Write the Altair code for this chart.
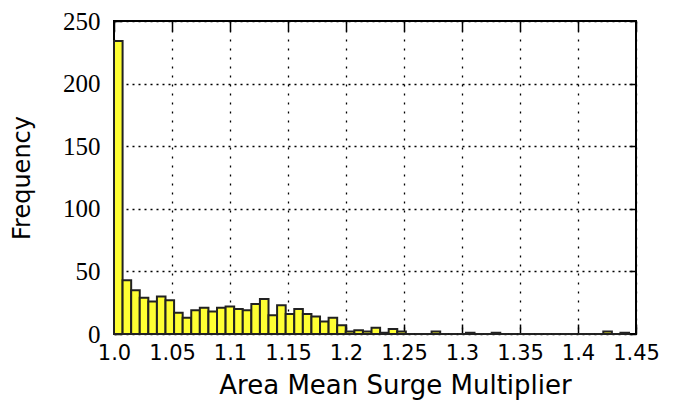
import altair as alt
import pandas as pd

# Histogram counts (60 equal bins between bin_lo and bin_hi)
counts = [234, 43, 35, 29, 26, 30, 27, 17, 13, 19,
          21, 18, 21, 22, 20, 19, 24, 28, 15, 23,
          16, 20, 16, 14, 10, 13, 7, 2, 3, 2,
          5, 1, 4, 2, 0, 0, 0, 2, 0, 0,
          0, 1, 0, 0, 1, 0, 0, 0, 0, 0,
          0, 0, 0, 0, 0, 0, 0, 2, 0, 1]
bin_lo = 1.0
bin_hi = 1.444

x_tick_values = [1.0, 1.05, 1.1, 1.15, 1.2, 1.25, 1.3, 1.35, 1.4, 1.45]
x_tick_labels = ["1.0", "1.05", "1.1", "1.15", "1.2", "1.25", "1.3", "1.35", "1.4", "1.45"]
y_tick_values = [0, 50, 100, 150, 200, 250]

x_domain = [1.0, 1.45]
y_domain = [0, 250]

n = len(counts)
w = (bin_hi - bin_lo) / n
df = pd.DataFrame({
    "start": [bin_lo + i * w for i in range(n)],
    "end": [bin_lo + (i + 1) * w for i in range(n)],
    "count": counts,
})

# label expression built from tick lists
label_expr = "''"
for v, lab in reversed(list(zip(x_tick_values, x_tick_labels))):
    label_expr = f"abs(datum.value - {v}) < 1e-6 ? '{lab}' : ({label_expr})"

W, H = 522, 313

bottom_axis = alt.Axis(
    orient="bottom", values=x_tick_values, labelExpr=label_expr,
    offset=-10, tickSize=10, tickWidth=1.5, tickColor="black",
    domain=False, grid=True, gridDash=[2, 7], gridColor="black", gridWidth=1.3,
    labelFont="DejaVu Sans", labelFontSize=21, labelColor="black", labelPadding=8,
    labelFlush=False, labelOverlap=False,
    title="Area Mean Surge Multiplier", titleFont="DejaVu Sans", titleFontSize=26,
    titleFontWeight="normal", titleColor="black", titleX=W / 2 + 20, titleY=61,
    titleBaseline="middle", titleAlign="center",
)
left_axis = alt.Axis(
    orient="left", values=y_tick_values,
    offset=-7, tickSize=7, tickWidth=1.5, tickColor="black",
    domain=False, grid=True, gridDash=[2, 4], gridColor="black", gridWidth=1.3,
    labelFont="Liberation Serif", labelFontSize=25, labelColor="black", labelPadding=14,
    labelFlush=False, labelOverlap=False,
    title="Frequency", titleFont="DejaVu Sans", titleFontSize=24,
    titleFontWeight="normal", titleColor="black", titleAngle=270,
    titleX=-99, titleY=H / 2, titleBaseline="middle", titleAlign="center",
)
top_axis = alt.Axis(
    orient="top", values=x_tick_values, offset=-10, tickSize=10, tickWidth=1.5,
    tickColor="black", domain=False, grid=False, labels=False, title=None,
)
right_axis = alt.Axis(
    orient="right", values=y_tick_values, offset=-7, tickSize=7, tickWidth=1.5,
    tickColor="black", domain=False, grid=False, labels=False, title=None,
)

base = alt.Chart(df)
bars = base.mark_bar(fill="#ffff33", stroke="#222222", strokeWidth=2).encode(
    x=alt.X("start:Q", scale=alt.Scale(domain=x_domain, nice=False, zero=False), axis=bottom_axis),
    x2="end:Q",
    y=alt.Y("count:Q", scale=alt.Scale(domain=y_domain, nice=False), axis=left_axis),
    y2=alt.datum(0),
)
frame_axes = base.mark_point(opacity=0).encode(
    x=alt.X("start:Q", scale=alt.Scale(domain=x_domain, nice=False, zero=False), axis=top_axis),
    y=alt.Y("count:Q", scale=alt.Scale(domain=y_domain, nice=False), axis=right_axis),
)

chart = alt.layer(bars, frame_axes).resolve_scale(
    x="independent", y="independent"
).resolve_axis(
    x="independent", y="independent"
).properties(
    width=W, height=H,
    autosize=alt.AutoSizeParams(type="none"),
    padding={"left": 106, "top": 13, "right": 36, "bottom": 68},
).configure_view(
    stroke="black", strokeWidth=2
)

chart.save("out.html", embed_options={"renderer": "svg", "actions": False})
